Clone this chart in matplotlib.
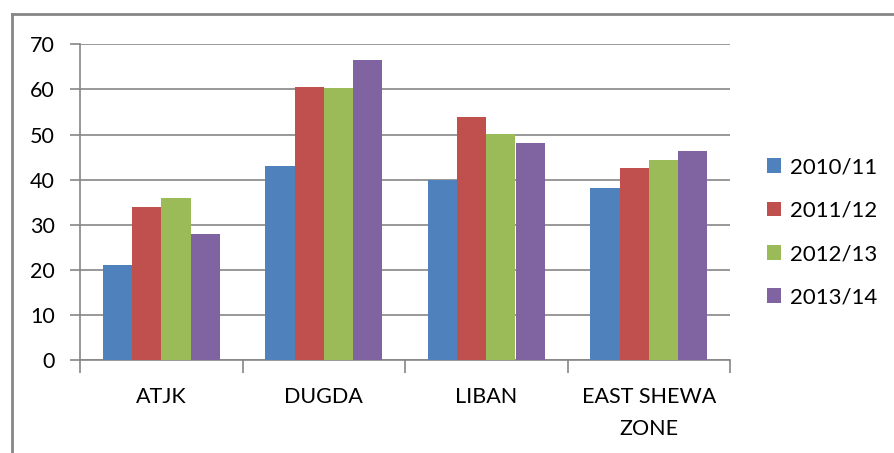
import matplotlib
matplotlib.use("Agg")
import matplotlib.pyplot as plt
import numpy as np
from matplotlib.patches import Patch
from matplotlib.lines import Line2D

categories = ["ATJK", "DUGDA", "LIBAN", "EAST SHEWA\nZONE"]
series = ["2010/11", "2011/12", "2012/13", "2013/14"]
v2010 = [21, 43, 40, 38.2]
v2011 = [34, 60.5, 53.9, 42.6]
v2012 = [36, 60.3, 50.2, 44.4]
v2013 = [28, 66.5, 48.1, 46.4]
values = [v2010, v2011, v2012, v2013]
colors = ["#4F81BD", "#C0504D", "#9BBB59", "#8064A2"]
yticks = [0, 10, 20, 30, 40, 50, 60, 70]

plt.rcParams['font.family'] = ['Lato', 'DejaVu Sans']
fig = plt.figure(figsize=(8.94, 4.53), dpi=100)
ax = fig.add_axes([80/894, 1-360.3/453, (730-80)/894, (360.3-44.3)/453])

x = np.arange(len(categories))
bw = 0.18
for i, (vals, c) in enumerate(zip(values, colors)):
    ax.bar(x + (i - 1.5) * bw, vals, width=bw, color=c, label=series[i], zorder=3)

grid_c = "#868686"
ax.set_ylim(0, 70)
ax.set_xlim(-0.5, len(categories) - 0.5)
ax.set_yticks(yticks)
ax.yaxis.grid(True, color=grid_c, linewidth=1.2, zorder=0)
ax.set_axisbelow(True)
for s in ["top", "right"]:
    ax.spines[s].set_visible(False)
for s in ["left", "bottom"]:
    ax.spines[s].set_color(grid_c)
    ax.spines[s].set_linewidth(1.2)
ax.tick_params(axis='y', length=7, color=grid_c, width=1.2, pad=11, labelsize=15.5)
ax.set_xticks(x)
ax.set_xticklabels(categories, linespacing=1.75)
ax.set_xticks(np.arange(len(categories) + 1) - 0.5, minor=True)
ax.tick_params(axis='x', which='major', length=0, pad=19, labelsize=15.5)
ax.tick_params(axis='x', which='minor', length=9, color=grid_c, width=1.2)

handles = [Patch(facecolor=c, edgecolor='none') for c in colors]
leg = fig.legend(handles, series, loc='center left', bbox_to_anchor=(767/894, 1-232.5/453),
                 frameon=False, fontsize=16, handlelength=0.65, handleheight=0.65,
                 handletextpad=0.4, labelspacing=1.05, borderpad=0, borderaxespad=0)

# outer border (chart area frame)
fig.add_artist(Line2D([12/894, 12/894], [0, 1-14/453], transform=fig.transFigure, color="#868686", linewidth=2))
fig.add_artist(Line2D([12/894, 1], [1-14/453, 1-14/453], transform=fig.transFigure, color="#868686", linewidth=2))

fig.savefig("out.png", dpi=100)
